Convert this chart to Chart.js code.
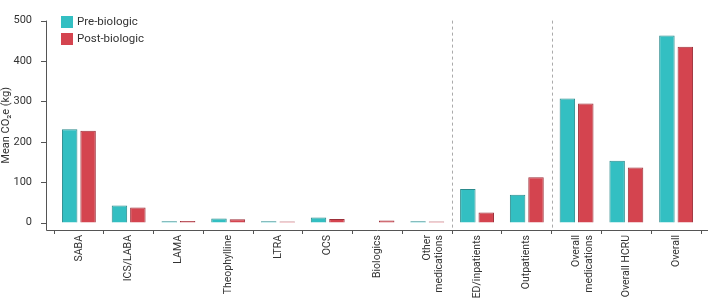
<!DOCTYPE html>
<html>
<head>
<meta charset="utf-8">
<script src="https://cdn.jsdelivr.net/npm/chart.js@4.4.1/dist/chart.umd.min.js"></script>
<style>
  html, body { margin: 0; padding: 0; background: #fff; }
  #wrap { position: relative; width: 708px; height: 299px; }
</style>
</head>
<body>
<div id="wrap"><canvas id="chart"></canvas></div>
<script>
var categories = ['SABA', 'ICS/LABA', 'LAMA', 'Theophylline', 'LTRA', 'OCS', 'Biologics',
  ['Other', 'medications'], 'ED/inpatients', 'Outpatients', ['Overall', 'medications'],
  'Overall HCRU', 'Overall'];
var preBiologic = [231, 42, 3, 10, 3, 12.5, 0, 3, 83, 69, 307, 153, 463];
var postBiologic = [227, 37, 4, 8, 2.5, 9, 5, 2.5, 25, 112, 295, 136, 435];
var yTicks = [0, 100, 200, 300, 400, 500];
var dividers = [8, 10]; // boundaries after these category counts

var axisColor = '#555';
var fontFamily = 'Roboto, "Open Sans", sans-serif';

var axesPlugin = {
  id: 'axesPlugin',
  beforeDraw: function (chart) {
    var ctx = chart.ctx;
    ctx.save();
    ctx.fillStyle = 'white';
    ctx.fillRect(0, 0, chart.width, chart.height);
    ctx.restore();
  },
  afterDraw: function (chart) {
    var ctx = chart.ctx;
    var area = chart.chartArea;
    var y = chart.scales.y;
    var x = chart.scales.x;
    var axisX = area.left - 8;
    ctx.save();
    ctx.strokeStyle = axisColor;
    ctx.lineWidth = 1;
    ctx.beginPath();
    ctx.moveTo(axisX + 0.5, area.top);
    ctx.lineTo(axisX + 0.5, area.bottom + 0.5);
    ctx.lineTo(chart.width, area.bottom + 0.5);
    yTicks.forEach(function (v) {
      var py = Math.round(y.getPixelForValue(v)) + 0.5;
      ctx.moveTo(axisX - 5, py);
      ctx.lineTo(axisX + 0.5, py);
    });
    ctx.stroke();

    ctx.strokeStyle = '#aaa';
    ctx.setLineDash([3, 3]);
    ctx.beginPath();
    dividers.forEach(function (i) {
      var px = Math.round((x.getPixelForValue(i - 1) + x.getPixelForValue(i)) / 2) + 0.5;
      ctx.moveTo(px, area.top);
      ctx.lineTo(px, area.bottom);
    });
    ctx.stroke();
    ctx.setLineDash([]);

    // legend
    var items = [
      { label: 'Pre-biologic', color: '#33bfc2' },
      { label: 'Post-biologic', color: '#d4444f' }
    ];
    ctx.font = '11.5px ' + fontFamily;
    ctx.textBaseline = 'middle';
    items.forEach(function (it, i) {
      var top = 16 + i * 17;
      ctx.fillStyle = it.color;
      ctx.fillRect(61, top, 12, 12);
      ctx.fillStyle = '#333';
      ctx.fillText(it.label, 77, top + 6.5);
    });
    ctx.restore();
  }
};

new Chart(document.getElementById('chart'), {
  type: 'bar',
  data: {
    labels: categories,
    datasets: [
      {
        label: 'Pre-biologic',
        data: preBiologic,
        backgroundColor: '#33bfc2',
        borderColor: '#2a8a8c',
        borderWidth: 1,
        categoryPercentage: 0.74,
        barPercentage: 0.84
      },
      {
        label: 'Post-biologic',
        data: postBiologic,
        backgroundColor: '#d4444f',
        borderColor: '#9c2f39',
        borderWidth: 1,
        categoryPercentage: 0.74,
        barPercentage: 0.84
      }
    ]
  },
  options: {
    animation: false,
    responsive: true,
    maintainAspectRatio: false,
    layout: { padding: { top: 6, right: 7, left: 0, bottom: 0 } },
    plugins: {
      legend: { display: false },
      tooltip: { enabled: false }
    },
    scales: {
      x: {
        offset: true,
        border: { display: false },
        grid: {
          display: true,
          offset: true,
          drawOnChartArea: false,
          drawTicks: true,
          tickLength: 4,
          color: axisColor
        },
        ticks: {
          minRotation: 90,
          maxRotation: 90,
          autoSkip: false,
          padding: 1,
          color: '#333',
          font: { family: fontFamily, size: 10.5 }
        },
        afterFit: function (scale) { scale.height = 69; }
      },
      y: {
        min: -18.5,
        max: 500,
        border: { display: false },
        grid: { display: false },
        afterBuildTicks: function (scale) {
          scale.ticks = yTicks.map(function (v) { return { value: v }; });
        },
        ticks: {
          padding: 14,
          color: '#333',
          font: { family: fontFamily, size: 11 }
        },
        title: {
          display: true,
          text: 'Mean CO\u2082e (kg)',
          color: '#333',
          padding: 0,
          font: { family: fontFamily, size: 11 }
        },
        afterFit: function (scale) { scale.width = 54; }
      }
    }
  },
  plugins: [axesPlugin]
});
</script>
</body>
</html>
